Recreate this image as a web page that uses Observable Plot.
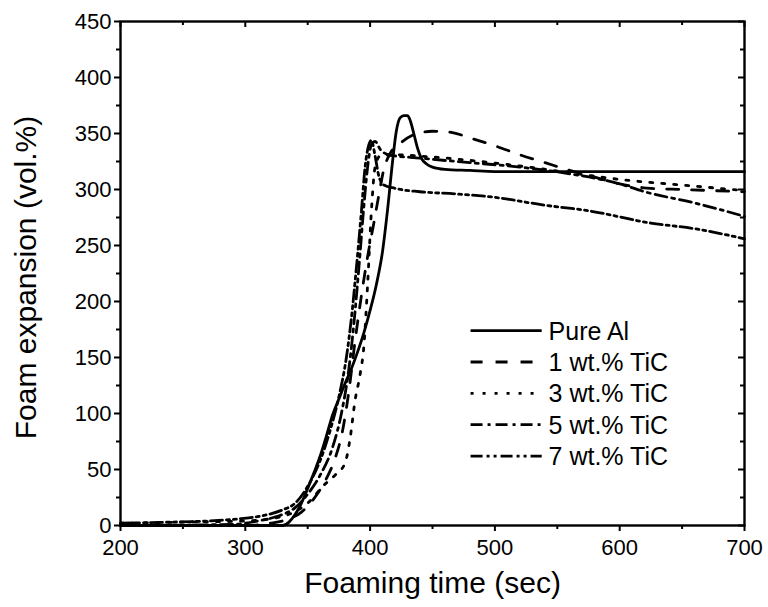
<!DOCTYPE html>
<html><head><meta charset="utf-8">
<script src="https://cdn.jsdelivr.net/npm/d3@7"></script>
<script src="https://cdn.jsdelivr.net/npm/@observablehq/plot@0.6"></script>
<style>body{margin:0;background:#fff;} svg{font-family:"Liberation Sans",Arial,sans-serif;}</style>
</head><body><div id="chart"></div><script>
// ---- data (time in sec, expansion in vol.%) ----
const pureAl = [[200,0],[330,0],[335,3],[340,10],[345,20],[350,33],[355,47],[360,62],[365,80],[370,99],[375,113],[380,127],[385,140],[390,155],[395,172],[400,192],[405,215],[410,245],[414,282],[418,325],[421,352],[424,364],[427,366],[430,366],[432,362],[435,350],[438,337],[441,328],[445,323],[450,320],[460,318],[480,317],[500,316],[600,316],[700,316]];
const tic1 = [[200,0],[300,0],[320,2],[335,6],[345,12],[355,24],[365,42],[372,60],[378,85],[383,120],[388,165],[393,205],[398,240],[403,270],[407,295],[411,318],[416,332],[425,342],[435,349],[450,352],[465,351],[480,346],[500,339],[520,331],[540,324],[560,317],[580,311],[600,305],[625,301],[650,300],[700,298]];
const tic3 = [[200,2],[250,3],[300,4],[320,6],[335,10],[350,20],[363,36],[372,45],[380,56],[384,78],[388,112],[392,135],[395,160],[398,215],[401,280],[404,320],[408,330],[420,331],[450,329],[480,326],[520,321],[560,315],[600,309],[650,304],[700,299]];
const tic5 = [[200,0],[290,1],[310,4],[325,8],[340,16],[350,28],[360,45],[370,70],[377,100],[383,140],[387,180],[391,230],[395,285],[398,320],[401,340],[404,343],[408,336],[415,331],[440,328],[480,324],[520,320],[560,314],[600,305],[620,298],[660,288],[700,276]];
const tic7 = [[200,2],[240,3],[270,4],[295,6],[315,9],[330,14],[340,20],[350,35],[360,58],[368,85],[375,115],[381,150],[385,185],[389,230],[393,280],[396,320],[399,340],[401,344],[404,330],[407,312],[411,304],[420,301],[440,298],[470,296],[500,293],[540,286],[575,281],[625,270],[660,265],[700,256]];

const seriesNames = ["Pure Al","1 wt.% TiC","3 wt.% TiC","5 wt.% TiC","7 wt.% TiC"];
const seriesData = [pureAl, tic1, tic3, tic5, tic7];

const xMajor = [200,300,400,500,600,700];
const xMinor = [250,350,450,550,650];
const yMajor = [0,50,100,150,200,250,300,350,400,450];
const yMinor = [25,75,125,175,225,275,325,375,425];

// ---- styles / layout ----
const dashes = [null, "12,13", "3,9", "12,5,3,5", "12,4,3,4,3,4"];
const W = 768, H = 607, mL = 120, mR = 24, mT = 21, mB = 82;
const innerW = W - mL - mR, innerH = H - mT - mB;
const legendX1 = 480.5, legendX2 = 537.5, legendTextX = 543;
const legendRowsY = [174, 146, 118, 90, 62];

const rows = seriesData.flatMap((arr, i) => arr.map(([t, v]) => ({t, v, s: i})));
const legendRows = seriesNames.map((name, i) => ({name, i, y: legendRowsY[i]}));

const marks = [];
seriesData.forEach((arr, i) => {
  marks.push(Plot.line(rows.filter(d => d.s === i), {
    x: "t", y: "v", stroke: "black", strokeWidth: 2.8, curve: "monotone-x",
    strokeDasharray: dashes[i] ?? undefined
  }));
  marks.push(Plot.link([legendRows[i]], {
    x1: () => legendX1, x2: () => legendX2, y1: "y", y2: "y",
    stroke: "black", strokeWidth: 2.8, strokeDasharray: dashes[i] ?? undefined
  }));
});
marks.push(Plot.text(legendRows, {x: () => legendTextX, y: "y", text: "name", textAnchor: "start", fontSize: 25, fill: "black", dy: 1}));

const chart = Plot.plot({
  width: W, height: H, marginLeft: mL, marginRight: mR, marginTop: mT, marginBottom: mB,
  style: {fontFamily: "Liberation Sans, Arial, sans-serif", fontSize: "22px", color: "black", background: "white"},
  x: {domain: [200, 700]},
  y: {domain: [0, 450]},
  marks: [
    ...marks,
    Plot.frame({stroke: "black", strokeWidth: 2.4}),
    Plot.axisX(xMajor, {tickSize: 6, tickPadding: 8, strokeWidth: 2, fontSize: 22, label: null, tickFormat: d => String(d)}),
    Plot.axisX(xMinor, {tickSize: 4, strokeWidth: 2, label: null, tickFormat: () => ""}),
    Plot.axisY(yMajor, {tickSize: 6, tickPadding: 3, strokeWidth: 2, fontSize: 22, label: null, tickFormat: d => String(d)}),
    Plot.axisY(yMinor, {tickSize: 4, strokeWidth: 2, label: null, tickFormat: () => ""}),
    Plot.tickX(xMajor, {x: d => d, insetBottom: innerH - 6, stroke: "black", strokeWidth: 2}),
    Plot.tickX(xMinor, {x: d => d, insetBottom: innerH - 4, stroke: "black", strokeWidth: 2}),
    Plot.tickY(yMajor, {y: d => d, insetLeft: innerW - 6, stroke: "black", strokeWidth: 2}),
    Plot.tickY(yMinor, {y: d => d, insetLeft: innerW - 4, stroke: "black", strokeWidth: 2}),
    Plot.text(["Foaming time (sec)"], {frameAnchor: "bottom", dy: 67, fontSize: 30, fill: "black"}),
    Plot.text(["Foam expansion (vol.%)"], {frameAnchor: "left", rotate: -90, textAnchor: "middle", dx: -94, dy: 4, fontSize: 30, fill: "black"})
  ]
});
document.getElementById("chart").append(chart);
</script></body></html>
